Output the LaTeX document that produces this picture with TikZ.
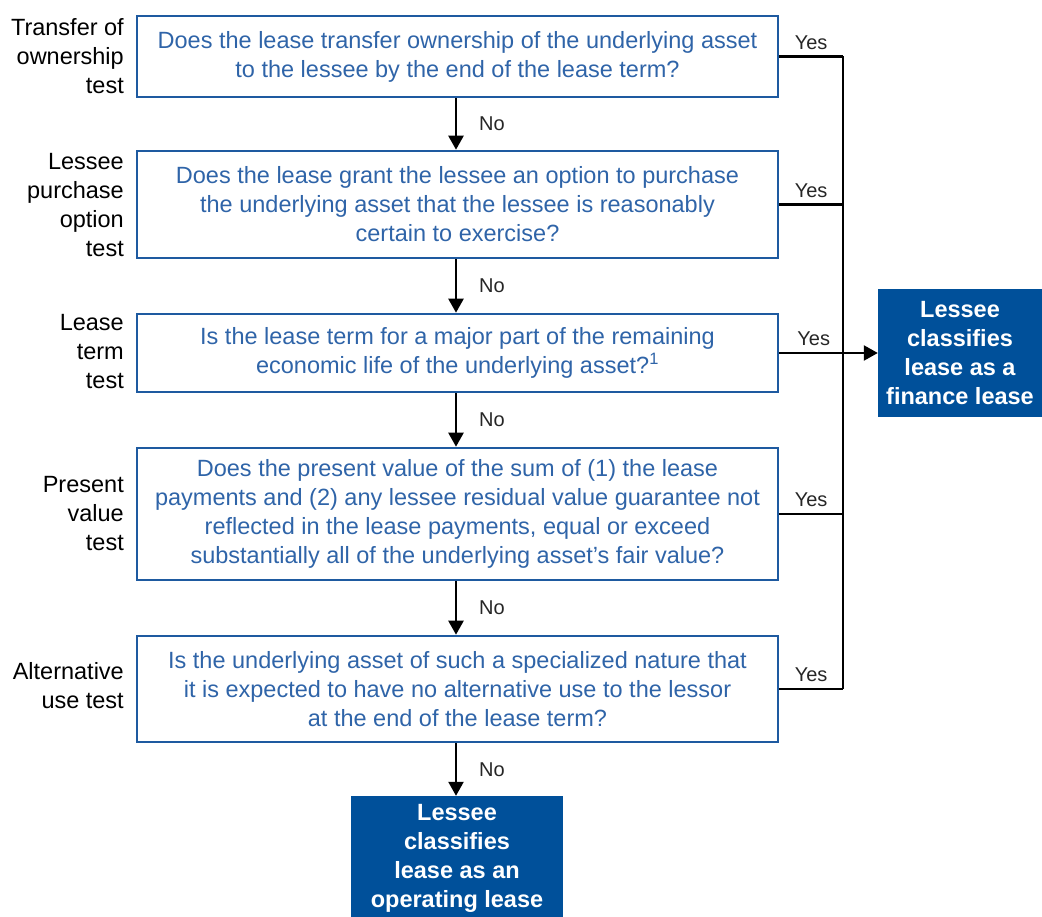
\documentclass[tikz,border=0pt]{standalone}
\usepackage{fontspec}
\setmainfont{Liberation Sans}
\usetikzlibrary{arrows.meta}
\definecolor{kblue}{HTML}{1E5AA0}
\definecolor{ktext}{HTML}{2F64A8}
\definecolor{kdark}{HTML}{00509A}
\begin{document}
\begin{tikzpicture}[x=1pt,y=-1pt,
  qbox/.style={draw=kblue, line width=2.6pt, minimum width=641pt, text=ktext, align=center,
    font=\fontsize{23.5}{29}\selectfont, inner sep=0pt},
  lab/.style={anchor=east, align=right, font=\fontsize{23.5}{29}\selectfont, inner sep=0pt},
  ans/.style={font=\fontsize{20}{23}\selectfont, inner sep=0pt, text=black!85},
  res/.style={fill=kdark, text=white, align=center, font=\bfseries\fontsize{23.5}{29}\selectfont, inner sep=0pt},
  conn/.style={line width=2.4pt, black},
  arr/.style={conn, -{Triangle[length=14pt,width=15pt]}}]
\useasboundingbox (0,0) rectangle (1042,917);
\node[qbox, minimum height=81pt] (b1) at (457.5,56.5) {Does the lease transfer ownership of the underlying asset\\to the lessee by the end of the lease term?};
\node[qbox, minimum height=107pt] (b2) at (457.5,204.5) {Does the lease grant the lessee an option to purchase\\the underlying asset that the lessee is reasonably\\certain to exercise?};
\node[qbox, minimum height=78pt] (b3) at (457.5,353) {Is the lease term for a major part of the remaining\\economic life of the underlying asset?\textsuperscript{1}};
\node[qbox, minimum height=132pt] (b4) at (457.5,514) {Does the present value of the sum of (1) the lease\\payments and (2) any lessee residual value guarantee not\\reflected in the lease payments, equal or exceed\\substantially all of the underlying asset’s fair value?};
\node[qbox, minimum height=106pt] (b5) at (457.5,689) {Is the underlying asset of such a specialized nature that\\it is expected to have no alternative use to the lessor\\at the end of the lease term?};
\node[lab] (l1) at (124,56) {Transfer of\\ownership\\test};
\node[lab] (l2) at (124,205) {Lessee\\purchase\\option\\test};
\node[lab] (l3) at (124,352) {Lease\\term\\test};
\node[lab] (l4) at (124,514) {Present\\value\\test};
\node[lab] (l5) at (124,686) {Alternative\\use test};
\node[res, minimum width=164pt, minimum height=128pt] (fin) at (960,353) {Lessee\\classifies\\lease as a\\finance lease};
\node[res, minimum width=212pt, minimum height=124pt] (op) at (457,858) {Lessee\\classifies\\lease as an\\operating lease};
\coordinate (vx) at (843,0);
\draw[arr] (b1.south -| 456,0) -- (b2.north -| 456,0) node[ans, midway, anchor=west, xshift=22pt] (n1) {No};
\draw[arr] (b2.south -| 456,0) -- (b3.north -| 456,0) node[ans, midway, anchor=west, xshift=22pt] (n2) {No};
\draw[arr] (b3.south -| 456,0) -- (b4.north -| 456,0) node[ans, midway, anchor=west, xshift=22pt] (n3) {No};
\draw[arr] (b4.south -| 456,0) -- (b5.north -| 456,0) node[ans, midway, anchor=west, xshift=22pt] (n4) {No};
\draw[arr] (b5.south -| 456,0) -- (op.north -| 456,0) node[ans, midway, anchor=west, xshift=22pt] (n5) {No};
\draw[conn] (b1.east) -- (b1.east -| vx) node[ans, pos=0.5, above=6pt] (y1) {Yes};
\draw[conn] (b2.east) -- (b2.east -| vx) node[ans, pos=0.5, above=6pt] (y2) {Yes};
\draw[conn] (b4.east) -- (b4.east -| vx) node[ans, pos=0.5, above=6pt] (y4) {Yes};
\draw[conn] (b5.east) -- (b5.east -| vx) node[ans, pos=0.5, above=6pt] (y5) {Yes};
\draw[conn] (b1.east -| vx) -- (b5.east -| vx);
\draw[arr] (b3.east) -- (fin.west) node[ans, pos=0.35, above=6pt] (y3) {Yes};
\end{tikzpicture}
\end{document}
